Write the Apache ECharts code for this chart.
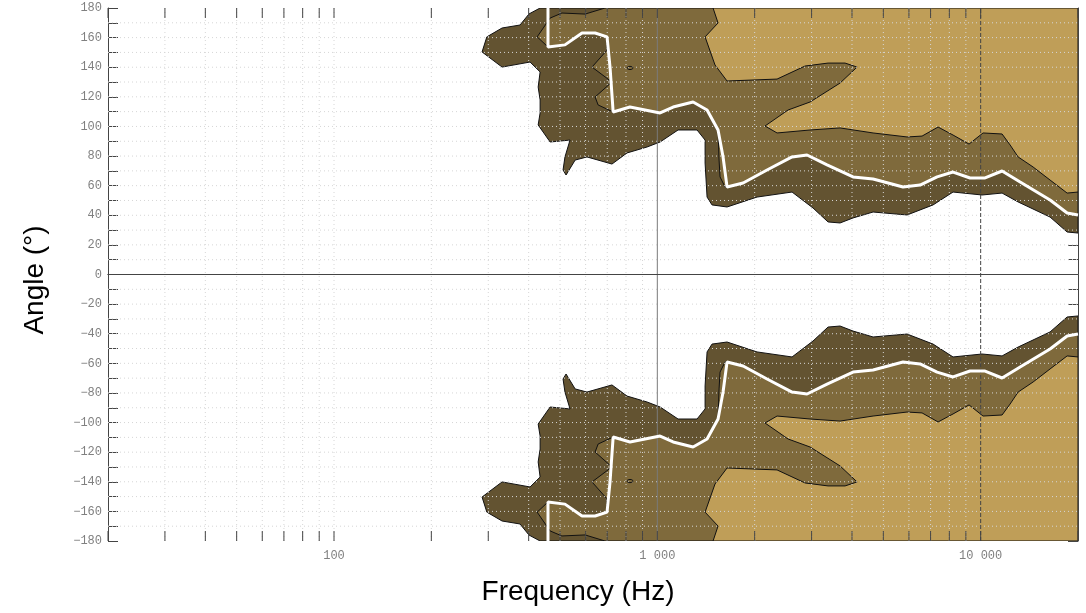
<!DOCTYPE html>
<html>
<head>
<meta charset="utf-8">
<script src="https://cdn.jsdelivr.net/npm/echarts@6/dist/echarts.min.js"></script>
<style>html,body{margin:0;padding:0;background:#fff}#c{width:1086px;height:613px}</style>
</head>
<body>
<div id="c"></div>
<script>
// ---- data (frequency Hz, angle deg), upper half; lower half is the mirror image ----
const darkTop = [[434,180],[401,176],[376,168.5],[331,166.5],[297,160.5],[287,150.3],[331,140.1],[404,143.5],[434,136.8],[428,126.6],[434,117.9],[434,109.1],[428,101],[466,89.5],[537,90.8],[518,79.4],[511,70.6],[522,67.2],[557,77.3],[606,79.4],[724,74.6],[806,82.1],[929,86.1],[1020,89.5],[1159,97.6],[1327,97.6],[1405,90.8],[1405,75.3],[1425,52.3],[1476,47],[1643,45.6],[2034,52.3],[2610,55.7],[3031,44.9],[3373,35.5],[3674,34.8],[4030,38.2],[4648,42.2],[5921,40.2],[7126,47],[8214,55.7],[10100,53.7],[11647,55],[13057,49],[16393,38.8],[18510,28.7],[20000,28],[20000,180]];
const mediumTop = [[689,180],[598,175.9],[507,176.6],[466,173.2],[425,160.5],[459,153.7],[518,155.1],[585,163.1],[642,163.1],[699,160.5],[699,151.6],[628,140.1],[724,130],[642,119.9],[656,114.5],[730,109.8],[823,113.1],[1020,109.1],[1119,113.1],[1290,116.5],[1425,111.1],[1541,97.6],[1552,77.3],[1563,65.9],[1620,59.1],[1643,59.1],[1842,61.8],[2184,70.6],[2610,79.4],[2904,80.7],[3349,74],[4030,65.9],[4648,64.5],[5754,59.1],[6495,60.4],[7332,65.9],[8214,69.2],[9272,65.2],[10318,65.2],[11647,69.9],[13245,62.5],[16393,50.3],[18510,41.5],[20000,40.2],[20000,180]];
const lightTop = [[1487,180],[1541,169.9],[1405,160.5],[1508,141.5],[1643,130.7],[2346,132],[2863,140.8],[3373,142.8],[3807,142.8],[4147,140.1],[3674,129.3],[2967,116.5],[2537,111.1],[2153,100.3],[2346,95.6],[2967,97.6],[3674,99],[4648,95.6],[5921,92.9],[6588,93.5],[7384,99.6],[8214,94.2],[9206,88.1],[10171,95.6],[11647,94.9],[12331,87.5],[13057,79.4],[14528,72.6],[16393,63.8],[18510,55],[20000,55.7],[20000,180]];
const whiteTop = [[459,180],[459,153.7],[518,155.1],[585,163.1],[642,163.1],[699,160.5],[714,140.1],[730,109.8],[823,113.1],[1020,109.1],[1119,113.1],[1290,116.5],[1425,111.1],[1541,97.6],[1597,79.4],[1643,59.1],[1842,61.8],[2184,70.6],[2610,79.4],[2904,80.7],[3349,74],[4030,65.9],[4648,64.5],[5754,59.1],[6495,60.4],[7332,65.9],[8214,69.2],[9272,65.2],[10318,65.2],[11647,69.9],[13245,62.5],[16393,50.3],[18510,41.5],[20000,40.2]];
const islandTop = [[823,139.5]];

// ---- ticks / grid ----
const xTickValues = [20,30,40,50,60,70,80,90,100,200,300,400,500,600,700,800,900,1000,2000,3000,4000,5000,6000,7000,8000,9000,10000,20000];
const xGridValues = [30,40,50,60,70,80,90,100,200,300,400,500,600,700,800,900,2000,3000,4000,5000,6000,7000,8000,9000];
const xTickLabels = {100:'100',1000:'1 000',10000:'10 000'};
const yGridValues = [-170,-160,-150,-140,-130,-120,-110,-100,-90,-80,-70,-60,-50,-40,-30,-20,-10,10,20,30,40,50,60,70,80,90,100,110,120,130,140,150,160,170];
const refLinesX = [1000, 10000];

const C_DARK = '#635331', C_MED = '#7f6a3c', C_LIGHT = '#bf9e58';
const mirror = arr => arr.map(p => [p[0], -p[1]]);

function polySeries(points, fill, z) {
  return {
    type: 'custom', z: z, silent: true, clip: true,
    data: points, encode: {x: 0, y: 1},
    renderItem: function (params, api) {
      if (params.dataIndex !== 0) return null;
      return {type: 'polygon', shape: {points: points.map(p => api.coord(p))},
              style: {fill: fill, stroke: '#111', lineWidth: 1}};
    }
  };
}
function islandSeries(points) {
  return {
    type: 'custom', z: 7, silent: true, data: points, encode: {x: 0, y: 1},
    renderItem: function (params, api) {
      const c = api.coord(points[params.dataIndex]);
      return {type: 'ellipse', shape: {cx: c[0], cy: c[1], rx: 3, ry: 1.6},
              style: {fill: 'none', stroke: '#111', lineWidth: 1}};
    }
  };
}
function whiteSeries(points) {
  return {type: 'line', data: points, symbol: 'none', silent: true, z: 8,
          lineStyle: {color: '#fff', width: 3}, animation: false};
}

const labelFont = {fontFamily: 'Liberation Mono', fontSize: 12, color: '#808080'};

const option = {
  animation: false,
  grid: {left: 108, right: 8, top: 8, bottom: 72, containLabel: false},
  xAxis: [{
    type: 'log', logBase: 10, min: 20, max: 20000,
    axisLine: {show: true, lineStyle: {color: '#444', width: 1}},
    axisTick: {show: false},
    splitLine: {show: false},
    axisLabel: Object.assign({margin: 9, formatter: function (v) {
      const l = Math.log10(v);
      if (Math.abs(l - Math.round(l)) > 1e-6) return '';
      return xTickLabels[Math.round(Math.pow(10, Math.round(l)))] || '';
    }}, labelFont)
  }, {
    type: 'log', logBase: 10, min: 20, max: 20000, position: 'top',
    axisLine: {show: true, lineStyle: {color: '#444', width: 1}},
    axisTick: {show: false}, axisLabel: {show: false}, splitLine: {show: false}
  }],
  yAxis: [{
    type: 'value', min: -180, max: 180, interval: 10,
    axisLine: {show: true, lineStyle: {color: '#444', width: 1}},
    axisTick: {show: true, inside: true, length: 10, lineStyle: {color: '#444'}},
    splitLine: {show: false},
    axisLabel: Object.assign({margin: 6, formatter: function (v) {
      return v % 20 === 0 ? String(v).replace('-', '\u2212') : '';
    }}, labelFont)
  }, {
    type: 'value', min: -180, max: 180, interval: 10, position: 'right',
    axisLine: {show: true, lineStyle: {color: '#444', width: 1}},
    axisTick: {show: true, inside: true, length: 10, lineStyle: {color: '#444'}},
    axisLabel: {show: false}, splitLine: {show: false}
  }],
  series: [
    polySeries(darkTop, C_DARK, 1),
    polySeries(mirror(darkTop), C_DARK, 1),
    polySeries(mediumTop, C_MED, 2),
    polySeries(mirror(mediumTop), C_MED, 2),
    polySeries(lightTop, C_LIGHT, 3),
    polySeries(mirror(lightTop), C_LIGHT, 3),
    { // grid lines (vertical)
      type: 'custom', z: 4, silent: true, clip: true,
      data: xGridValues.map(v => [v, 0]), encode: {x: 0, y: 1},
      renderItem: function (params, api) {
        const v = xGridValues[params.dataIndex];
        const a = api.coord([v, -180]), b = api.coord([v, 180]);
        return {type: 'line', shape: {x1: a[0], y1: a[1], x2: b[0], y2: b[1]},
                style: {stroke: '#d6d6d6', lineWidth: 1, lineDash: [1, 3]}};
      }
    },
    { // grid lines (horizontal)
      type: 'custom', z: 4, silent: true, clip: true,
      data: yGridValues.map(v => [100, v]), encode: {x: 0, y: 1},
      renderItem: function (params, api) {
        const v = yGridValues[params.dataIndex];
        const a = api.coord([20, v]), b = api.coord([20000, v]);
        return {type: 'line', shape: {x1: a[0], y1: a[1], x2: b[0], y2: b[1]},
                style: {stroke: '#d6d6d6', lineWidth: 1, lineDash: [1, 3]}};
      }
    },
    { // x ticks, bottom and top, pointing inward
      type: 'custom', z: 9, silent: true,
      data: xTickValues.map(v => [v, 0]), encode: {x: 0, y: 1},
      renderItem: function (params, api) {
        const v = xTickValues[params.dataIndex];
        const a = api.coord([v, -180]), b = api.coord([v, 180]);
        return {type: 'group', children: [
          {type: 'line', shape: {x1: a[0], y1: a[1], x2: a[0], y2: a[1] - 10}, style: {stroke: '#444', lineWidth: 1}},
          {type: 'line', shape: {x1: b[0], y1: b[1], x2: b[0], y2: b[1] + 10}, style: {stroke: '#444', lineWidth: 1}}
        ]};
      }
    },
    { // reference lines
      type: 'custom', z: 6, silent: true, clip: true,
      data: [[1000, 0]], encode: {x: 0, y: 1},
      renderItem: function (params, api) {
        const a = api.coord([refLinesX[0], -180]), b = api.coord([refLinesX[0], 180]);
        const c = api.coord([refLinesX[1], -180]), d = api.coord([refLinesX[1], 180]);
        const e = api.coord([20, 0]), f = api.coord([20000, 0]);
        return {type: 'group', children: [
          {type: 'line', shape: {x1: a[0], y1: a[1], x2: b[0], y2: b[1]}, style: {stroke: '#7a7a7a', lineWidth: 1}},
          {type: 'line', shape: {x1: c[0], y1: c[1], x2: d[0], y2: d[1]}, style: {stroke: '#444', lineWidth: 1, lineDash: [4, 2]}},
          {type: 'line', shape: {x1: e[0], y1: e[1], x2: f[0], y2: f[1]}, style: {stroke: '#444', lineWidth: 1, lineDash: [4, 2]}}
        ]};
      }
    },
    islandSeries(islandTop),
    islandSeries(mirror(islandTop)),
    whiteSeries(whiteTop),
    whiteSeries(mirror(whiteTop))
  ],
  graphic: [
    {type: 'text', x: 35, y: 280, rotation: Math.PI / 2,
     style: {text: 'Angle (\u00b0)', font: '28px "Liberation Sans", Arial, sans-serif', fill: '#000', align: 'center', verticalAlign: 'middle'}},
    {type: 'text', x: 578, y: 592,
     style: {text: 'Frequency (Hz)', font: '28px "Liberation Sans", Arial, sans-serif', fill: '#000', align: 'center', verticalAlign: 'middle'}}
  ]
};
const chart = echarts.init(document.getElementById('c'), null, {renderer: 'canvas'});
chart.setOption(option);
</script>
</body>
</html>
